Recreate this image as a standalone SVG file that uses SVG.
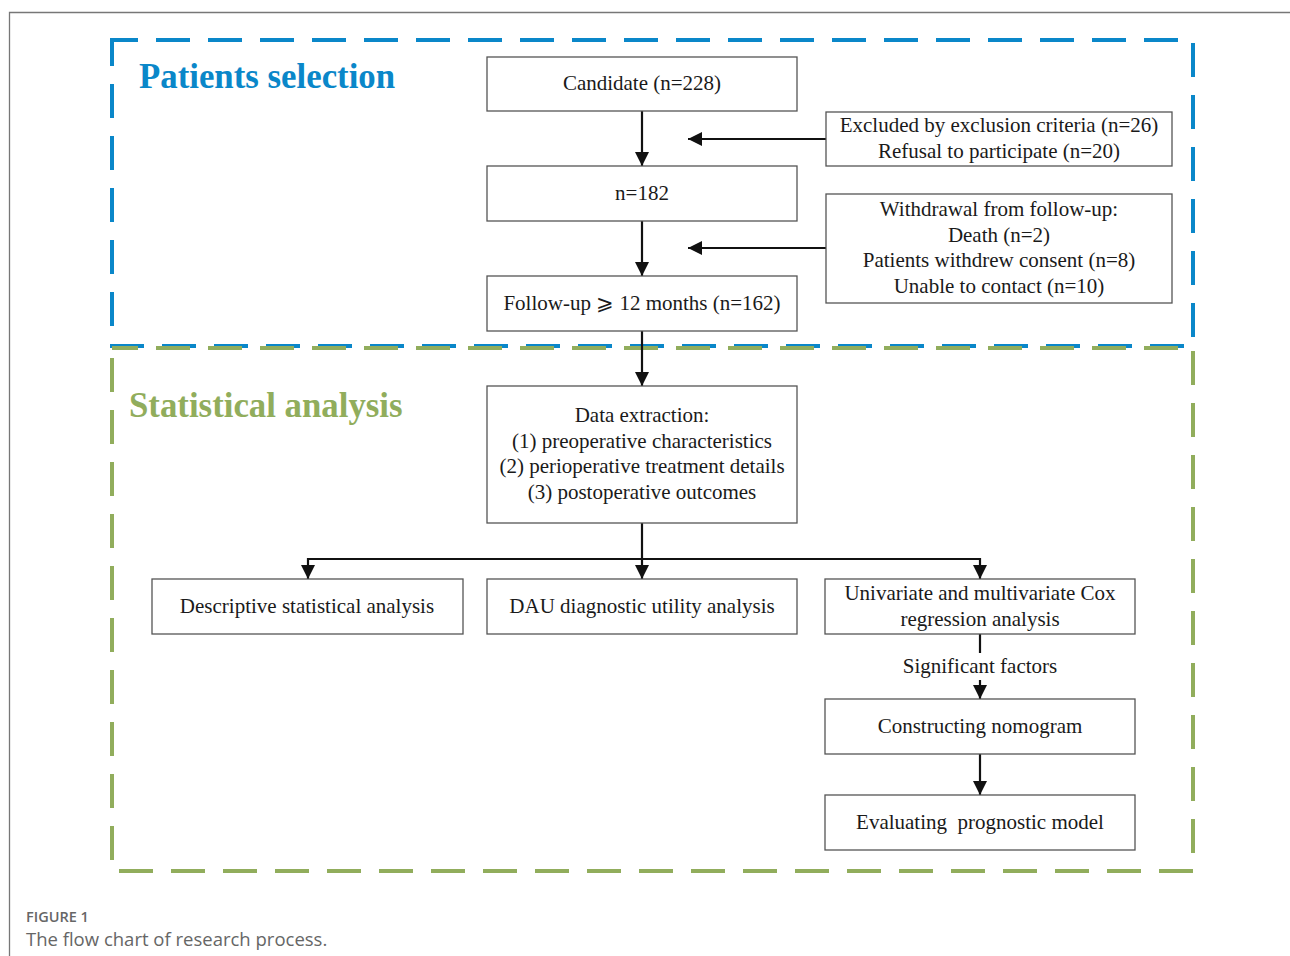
<svg xmlns="http://www.w3.org/2000/svg" width="1290" height="956" viewBox="0 0 1290 956">
<defs>
<style>
.box{fill:#fff;stroke:#555;stroke-width:1.3}
.t{font-family:"Liberation Serif","Times New Roman",serif;font-size:21px;fill:#1a1a1a;text-anchor:middle}
.ln{stroke:#111;stroke-width:2.2;fill:none}
.title{font-family:"Liberation Serif","Times New Roman",serif;font-size:34.8px;font-weight:bold}
</style>
<marker id="ah" viewBox="0 0 10 10" refX="10" refY="5" markerWidth="14" markerHeight="14" markerUnits="userSpaceOnUse" orient="auto">
<path d="M0,0 L10,5 L0,10 z" fill="#111"/>
</marker>
</defs>
<rect width="1290" height="956" fill="#fff"/>
<path d="M9.5,956 V12.5 H1290" fill="none" stroke="#777" stroke-width="1.3"/>
<g id="frames">
<rect x="112" y="40" width="1081" height="306" fill="none" stroke="#0a87c9" stroke-width="4" stroke-dasharray="34 18" stroke-dashoffset="8"/>
<rect x="112" y="348" width="1081" height="523" fill="none" stroke="#91ad5c" stroke-width="4" stroke-dasharray="34 18" stroke-dashoffset="8"/>
<text x="139" y="88" class="title" fill="#0a87c9">Patients selection</text>
<text x="129" y="417" class="title" fill="#91ad5c">Statistical analysis</text>
</g>
<g id="connectors">
<line class="ln" x1="642" y1="111" x2="642" y2="166" marker-end="url(#ah)"/>
<line class="ln" x1="642" y1="221" x2="642" y2="276" marker-end="url(#ah)"/>
<line class="ln" x1="642" y1="331" x2="642" y2="386" marker-end="url(#ah)"/>
<line class="ln" x1="826" y1="139" x2="688" y2="139" marker-end="url(#ah)"/>
<line class="ln" x1="826" y1="248" x2="688" y2="248" marker-end="url(#ah)"/>
<line class="ln" x1="642" y1="523" x2="642" y2="579" marker-end="url(#ah)"/>
<path class="ln" d="M308,559 H980"/>
<line class="ln" x1="308" y1="558" x2="308" y2="579" marker-end="url(#ah)"/>
<line class="ln" x1="980" y1="558" x2="980" y2="579" marker-end="url(#ah)"/>
<line class="ln" x1="980" y1="634" x2="980" y2="653"/>
<line class="ln" x1="980" y1="680" x2="980" y2="699" marker-end="url(#ah)"/>
<line class="ln" x1="980" y1="754" x2="980" y2="795" marker-end="url(#ah)"/>
<text x="980" y="673" class="t">Significant factors</text>
</g>
<g id="n-candidate"><rect class="box" x="487" y="57" width="310" height="54"/><text x="642" y="90" class="t">Candidate (n=228)</text></g>
<g id="n-182"><rect class="box" x="487" y="166" width="310" height="55"/><text x="642" y="200" class="t">n=182</text></g>
<g id="n-followup"><rect class="box" x="487" y="276" width="310" height="55"/><text x="642" y="310" class="t">Follow-up ⩾ 12 months (n=162)</text></g>
<g id="n-excluded"><rect class="box" x="826" y="112" width="346" height="54"/><text x="999" y="132" class="t">Excluded by exclusion criteria (n=26)</text><text x="999" y="158" class="t">Refusal to participate (n=20)</text></g>
<g id="n-withdrawal"><rect class="box" x="826" y="194" width="346" height="109"/><text x="999" y="216" class="t">Withdrawal from follow-up:</text><text x="999" y="242" class="t">Death (n=2)</text><text x="999" y="267" class="t">Patients withdrew consent (n=8)</text><text x="999" y="293" class="t">Unable to contact (n=10)</text></g>
<g id="n-data"><rect class="box" x="487" y="386" width="310" height="137"/><text x="642" y="422" class="t">Data extraction:</text><text x="642" y="448" class="t">(1) preoperative characteristics</text><text x="642" y="473" class="t">(2) perioperative treatment details</text><text x="642" y="499" class="t">(3) postoperative outcomes</text></g>
<g id="n-desc"><rect class="box" x="152" y="579" width="311" height="55"/><text x="307" y="613" class="t">Descriptive statistical analysis</text></g>
<g id="n-dau"><rect class="box" x="487" y="579" width="310" height="55"/><text x="642" y="613" class="t">DAU diagnostic utility analysis</text></g>
<g id="n-cox"><rect class="box" x="825" y="579" width="310" height="55"/><text x="980" y="600" class="t">Univariate and multivariate Cox</text><text x="980" y="626" class="t">regression analysis</text></g>
<g id="n-nomo"><rect class="box" x="825" y="699" width="310" height="55"/><text x="980" y="733" class="t">Constructing nomogram</text></g>
<g id="n-eval"><rect class="box" x="825" y="795" width="310" height="55"/><text x="980" y="829" class="t" style="white-space:pre">Evaluating  prognostic model</text></g>
<g id="caption">
<text x="26" y="922" font-family="'Open Sans','Noto Sans',sans-serif" font-size="14.5" font-weight="600" fill="#666">FIGURE 1</text>
<text x="26" y="946" font-family="'Open Sans','Noto Sans',sans-serif" font-size="18.5" fill="#666">The flow chart of research process.</text>
</g>
</svg>
